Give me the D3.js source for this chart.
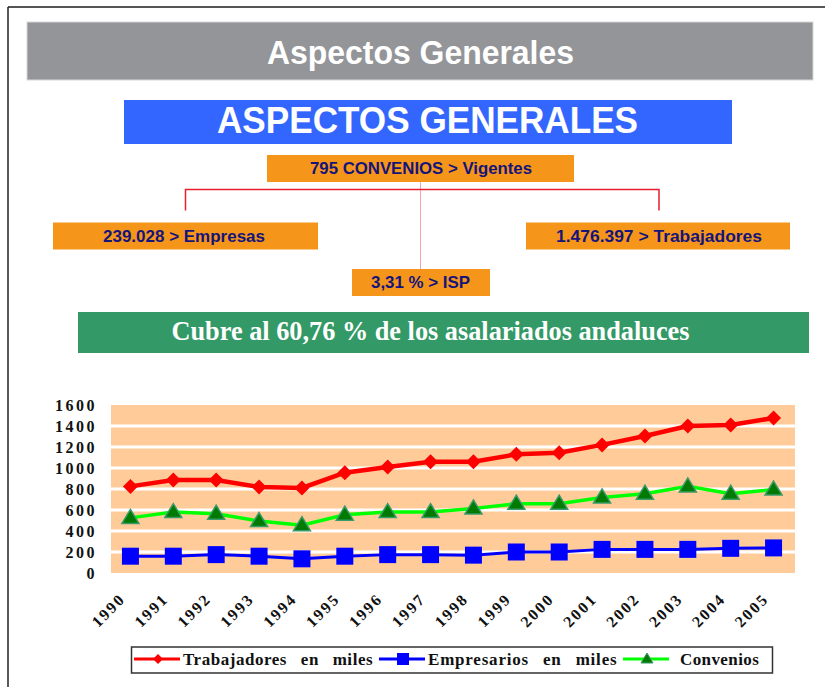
<!DOCTYPE html>
<html>
<head>
<meta charset="utf-8">
<script src="https://cdn.jsdelivr.net/npm/d3@7/dist/d3.min.js"></script>
<style>
  body { margin: 0; background: #fff; }
  svg { display: block; }
</style>
</head>
<body>
<div id="chart"></div>
<script>
'use strict';

// --- data ---
var years = ['1990', '1991', '1992', '1993', '1994', '1995', '1996', '1997',
             '1998', '1999', '2000', '2001', '2002', '2003', '2004', '2005'];
var trabajadores = [825, 885, 885, 820, 810, 955, 1010, 1060, 1060, 1130, 1145, 1220, 1305, 1400, 1410, 1476];
var empresarios = [160, 160, 175, 160, 135, 160, 175, 175, 170, 200, 200, 225, 225, 225, 235, 239];
var convenios = [525, 580, 565, 495, 455, 555, 580, 580, 615, 660, 660, 720, 755, 825, 755, 795];
var yTicks = [0, 200, 400, 600, 800, 1000, 1200, 1400, 1600];
var seriesNames = ['Trabajadores en miles', 'Empresarios en miles', 'Convenios'];

var pageTitle = 'Aspectos Generales';
var bannerTitle = 'ASPECTOS GENERALES';
var topNode = '795 CONVENIOS  > Vigentes';
var leftNode = '239.028 > Empresas';
var rightNode = '1.476.397  > Trabajadores';
var bottomNode = '3,31 % > ISP';
var coverText = 'Cubre al 60,76 % de los asalariados andaluces';

var W = 825, H = 687;
var sans = '"Liberation Sans", Arial, sans-serif';
var serif = '"Liberation Serif", "Times New Roman", serif';
var orange = '#F5961A', navy = '#14147A';

var svg = d3.select('#chart').append('svg')
    .attr('width', W)
    .attr('height', H);

// page frame (top + left edge)
svg.append('line').attr('x1', 8).attr('x2', W).attr('y1', 7).attr('y2', 7)
    .style('stroke', '#555').style('stroke-width', 2);
svg.append('line').attr('x1', 8).attr('x2', 8).attr('y1', 7).attr('y2', H)
    .style('stroke', '#222').style('stroke-width', 1.5);

// grey header
svg.append('rect').attr('x', 27).attr('y', 22).attr('width', 786).attr('height', 58)
    .style('fill', '#939598').style('stroke', '#d6d6d6').style('stroke-width', 1);
svg.append('text').attr('x', 267).attr('y', 63.5)
    .attr('textLength', 307).attr('lengthAdjust', 'spacingAndGlyphs')
    .style('font-family', sans).style('font-weight', 'bold').style('font-size', '34px')
    .style('fill', '#fff').text(pageTitle);

// blue banner
svg.append('rect').attr('x', 124).attr('y', 100).attr('width', 608).attr('height', 44)
    .style('fill', '#3366FF');
svg.append('text').attr('x', 217).attr('y', 132.5)
    .attr('textLength', 421).attr('lengthAdjust', 'spacingAndGlyphs')
    .style('font-family', sans).style('font-weight', 'bold').style('font-size', '37px')
    .style('fill', '#fff').text(bannerTitle);

// connectors
svg.append('line').attr('x1', 420.5).attr('x2', 420.5).attr('y1', 181).attr('y2', 269)
    .style('stroke', '#F4A3AC').style('stroke-width', 1);
svg.append('path')
    .attr('d', 'M185.5,210.5V189.5H659V210.5')
    .style('fill', 'none').style('stroke', '#E5202E').style('stroke-width', 1.5);

// orange nodes
function node(x, y, w, h, tx, tw, ty, label) {
  svg.append('rect').attr('x', x).attr('y', y).attr('width', w).attr('height', h)
      .style('fill', orange);
  svg.append('text').attr('x', tx).attr('y', ty)
      .attr('textLength', tw).attr('lengthAdjust', 'spacingAndGlyphs')
      .style('font-family', sans).style('font-weight', 'bold').style('font-size', '17px')
      .style('fill', navy).text(label);
}
node(267, 155, 307, 27, 310, 222, 174, topNode);
node(53, 222.5, 265, 27, 103, 162, 241.5, leftNode);
node(526, 222.5, 264, 27, 556, 206, 241.5, rightNode);
node(352, 269, 138, 27, 371, 99, 287.5, bottomNode);

// green banner
svg.append('rect').attr('x', 78).attr('y', 312).attr('width', 731).attr('height', 41)
    .style('fill', '#339966');
svg.append('text').attr('x', 171.5).attr('y', 340)
    .attr('textLength', 518).attr('lengthAdjust', 'spacingAndGlyphs')
    .style('font-family', serif).style('font-weight', 'bold').style('font-size', '27px')
    .style('fill', '#fff').text(coverText);

// --- line chart ---
var plot = { left: 111, right: 795, top: 405, bottom: 573 };

var x = d3.scaleBand()
    .domain(years)
    .range([109, 795]);
var y = d3.scaleLinear()
    .domain([0, 1600])
    .range([plot.bottom, plot.top]);
var cx = function (d, i) { return x(years[i]) + x.bandwidth() / 2; };

svg.append('rect')
    .attr('x', plot.left).attr('y', plot.top)
    .attr('width', plot.right - plot.left).attr('height', plot.bottom - plot.top)
    .style('fill', '#FFCC99');

svg.append('g').selectAll('line')
    .data(yTicks.slice(1, -1))
  .enter().append('line')
    .attr('x1', plot.left).attr('x2', plot.right)
    .attr('y1', function (d) { return y(d); })
    .attr('y2', function (d) { return y(d); })
    .style('stroke', '#fff').style('stroke-width', 3);

// y axis labels
var yAxis = svg.append('g')
    .attr('transform', 'translate(97,0)')
    .call(d3.axisLeft(y).tickValues(yTicks).tickSize(0).tickPadding(0).tickFormat(d3.format('d')));
yAxis.select('.domain').remove();
yAxis.selectAll('text')
    .style('font-family', serif).style('font-weight', 'bold').style('font-size', '16px')
    .style('letter-spacing', '2.5px').style('fill', '#111');

// x axis labels (rotated)
svg.append('g').selectAll('text')
    .data(years)
  .enter().append('text')
    .attr('transform', function (d) {
      return 'translate(' + (x(d) + x.bandwidth() / 2 - 4) + ',600) rotate(-45)';
    })
    .style('text-anchor', 'end')
    .style('font-family', serif).style('font-weight', 'bold').style('font-size', '16px')
    .style('letter-spacing', '2px').style('fill', '#111')
    .text(function (d) { return d; });

var line = d3.line()
    .x(cx)
    .y(function (d) { return y(d); });

var diamond = 'M0,-7.5L7.5,0L0,7.5L-7.5,0Z';
var square = 'M-8.5,-8.5H8.5V8.5H-8.5Z';
var triangle = 'M0,-8.5L8.5,5.5H-8.5Z';

// empresarios
svg.append('path').datum(empresarios).attr('d', line)
    .style('fill', 'none').style('stroke', '#0000FF').style('stroke-width', 3);
svg.append('g').selectAll('path').data(empresarios)
  .enter().append('path')
    .attr('transform', function (d, i) { return 'translate(' + cx(d, i) + ',' + y(d) + ')'; })
    .attr('d', square).style('fill', '#0000FF');

// convenios
svg.append('path').datum(convenios).attr('d', line)
    .style('fill', 'none').style('stroke', '#00FF00').style('stroke-width', 3.5);
svg.append('g').selectAll('path').data(convenios)
  .enter().append('path')
    .attr('transform', function (d, i) { return 'translate(' + cx(d, i) + ',' + y(d) + ')'; })
    .attr('d', triangle)
    .style('fill', '#007A00').style('stroke', '#3A9A6A').style('stroke-width', 1.5);

// trabajadores
svg.append('path').datum(trabajadores).attr('d', line)
    .style('fill', 'none').style('stroke', '#FF0000').style('stroke-width', 4.5);
svg.append('g').selectAll('path').data(trabajadores)
  .enter().append('path')
    .attr('transform', function (d, i) { return 'translate(' + cx(d, i) + ',' + y(d) + ')'; })
    .attr('d', diamond).style('fill', '#FF0000');

// legend
svg.append('rect').attr('x', 131.5).attr('y', 647).attr('width', 641).attr('height', 26)
    .style('fill', '#fff').style('stroke', '#333').style('stroke-width', 1.5);

var legendItems = [
  { name: seriesNames[0], color: '#FF0000', lx: 134, tx: 183, tw: 190,
    mark: 'M0,-5L5,0L0,5L-5,0Z', fill: '#FF0000', stroke: 'none' },
  { name: seriesNames[1], color: '#0000FF', lx: 379, tx: 428, tw: 189,
    mark: 'M-6,-6H6V6H-6Z', fill: '#0000FF', stroke: 'none' },
  { name: seriesNames[2], color: '#00FF00', lx: 623, tx: 680, tw: 81,
    mark: 'M0,-6L6,4H-6Z', fill: '#007A00', stroke: '#3A9A6A' }
];
var leg = svg.append('g').selectAll('g').data(legendItems)
  .enter().append('g');
leg.append('line')
    .attr('x1', function (d) { return d.lx; })
    .attr('x2', function (d) { return d.lx + 46; })
    .attr('y1', 659).attr('y2', 659)
    .style('stroke', function (d) { return d.color; }).style('stroke-width', 3);
leg.append('path')
    .attr('transform', function (d) { return 'translate(' + (d.lx + 24) + ',659)'; })
    .attr('d', function (d) { return d.mark; })
    .style('fill', function (d) { return d.fill; })
    .style('stroke', function (d) { return d.stroke; });
leg.append('text')
    .attr('x', function (d) { return d.tx; })
    .attr('y', 665)
    .style('font-family', serif).style('font-weight', 'bold').style('font-size', '17px')
    .style('word-spacing', '9px').style('letter-spacing', '0.4px')
    .style('fill', '#111')
    .text(function (d) { return d.name; })
    .each(function (d) {
      // stretch the run to the measured width in the picture
      var len = this.getComputedTextLength();
      if (len < d.tw - 2 || len > d.tw + 2) {
        d3.select(this).attr('textLength', d.tw).attr('lengthAdjust', 'spacing');
      }
    });
</script>
</body>
</html>
